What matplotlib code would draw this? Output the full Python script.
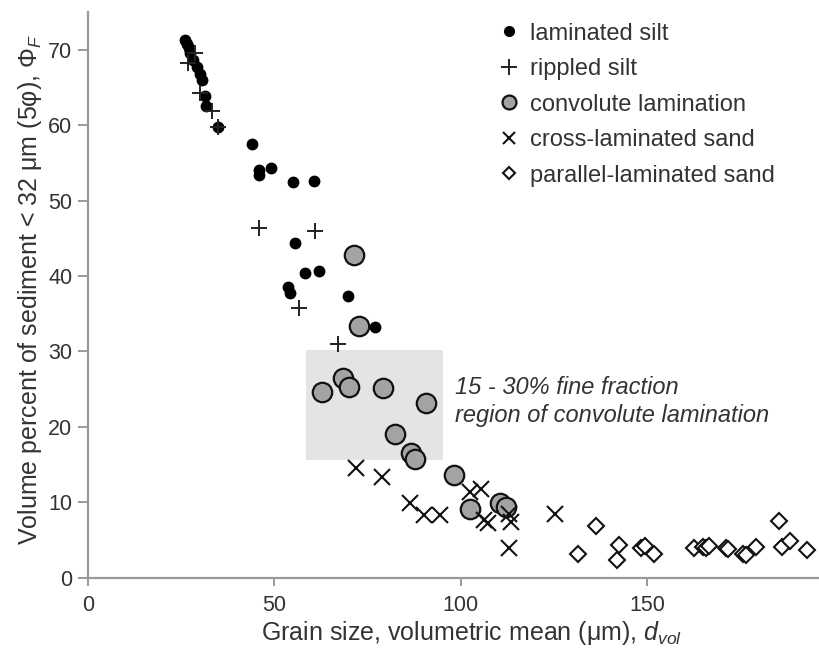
import matplotlib
matplotlib.use("Agg")
import matplotlib.pyplot as plt
from matplotlib.lines import Line2D
from matplotlib.patches import Rectangle

plt.rcParams['font.family'] = ['Liberation Sans', 'DejaVu Sans']
plt.rcParams['mathtext.fontset'] = 'custom'
plt.rcParams['mathtext.rm'] = 'Liberation Sans'
plt.rcParams['mathtext.it'] = 'Liberation Sans:italic'

# ---- data (grain size um, volume percent < 32 um) ----
lam_x = [26.0, 26.6, 27.0, 27.5, 28.3, 29.2, 30.0, 30.5, 31.5, 31.8, 34.8, 43.9, 45.9, 45.9,
         49.0, 54.9, 60.6, 55.6, 58.2, 61.9, 53.7, 54.2, 69.8, 77.1]
lam_y = [71.3, 70.8, 70.2, 69.5, 68.6, 67.7, 66.8, 66.0, 63.8, 62.6, 59.8, 57.5, 54.0, 53.4,
         54.3, 52.4, 52.6, 44.4, 40.4, 40.7, 38.5, 37.8, 37.4, 33.3]

rip_x = [26.9, 28.7, 30.0, 33.2, 34.9, 45.9, 60.9, 56.6, 67.1]
rip_y = [68.2, 69.5, 64.2, 61.9, 59.8, 46.4, 46.0, 35.7, 31.0]

conv_x = [71.4, 72.7, 62.9, 68.5, 70.1, 79.2, 90.6, 82.3, 86.8, 87.7, 98.2, 102.4, 110.5, 112.2]
conv_y = [42.8, 33.4, 24.6, 26.5, 25.3, 25.2, 23.2, 19.0, 16.5, 15.8, 13.6, 9.1, 9.9, 9.4]

cross_x = [72.0, 79.0, 86.5, 90.1, 94.5, 102.4, 105.5, 106.4, 107.3, 113.1, 113.6, 113.1, 125.4]
cross_y = [14.5, 13.4, 9.9, 8.3, 8.3, 11.4, 11.8, 7.6, 7.2, 8.5, 7.4, 4.0, 8.4]

par_x = [131.6, 136.4, 142.6, 142.0, 148.4, 149.6, 152.0, 162.7, 165.0, 165.9, 166.8, 171.2,
         171.9, 175.9, 176.6, 179.3, 185.5, 186.4, 188.4, 193.1]
par_y = [3.1, 6.9, 4.3, 2.4, 3.9, 4.2, 3.2, 3.9, 4.1, 3.9, 4.2, 4.0, 3.8, 3.2, 3.0, 4.1, 7.5,
         4.1, 4.8, 3.7]

labels = ['laminated silt', 'rippled silt', 'convolute lamination',
          'cross-laminated sand', 'parallel-laminated sand']

region_x = [58.4, 95.4]
region_y = [15.6, 30.2]
region_text = '15 - 30% fine fraction\nregion of convolute lamination'

x_ticks = [0, 50, 100, 150]
y_ticks = [0, 10, 20, 30, 40, 50, 60, 70]

# ---- figure ----
fig = plt.figure(figsize=(8.19, 6.51), dpi=100)
ax = fig.add_axes([88 / 819, (651 - 577.7) / 651, 731 / 819, 565.7 / 651])
ax.set_xlim(0, 196.2)
ax.set_ylim(0, 75)

ax.add_patch(Rectangle((region_x[0], region_y[0]), region_x[1] - region_x[0],
                       region_y[1] - region_y[0], facecolor='#e4e4e4', edgecolor='none',
                       zorder=1))

ax.plot(conv_x, conv_y, 'o', ms=14, mfc='#a3a3a3', mec='#111111', mew=1.6, ls='none', zorder=3)
ax.plot(lam_x, lam_y, 'o', ms=7.5, mfc='black', mec='black', ls='none', zorder=4)
ax.plot(rip_x, rip_y, '+', ms=12, mec='#222222', mew=1.4, ls='none', zorder=5)
ax.plot(cross_x, cross_y, 'x', ms=11, mec='#111111', mew=1.5, ls='none', zorder=5)
ax.plot(par_x, par_y, 'D', ms=8, mfc='white', mec='#111111', mew=1.5, ls='none', zorder=5)

ax.text(98.4, 20.6, region_text, style='italic', fontsize=17, color='#333333',
        va='baseline', ha='left', linespacing=1.3, zorder=6)

handles = [
    Line2D([], [], ls='none', marker='o', ms=7, mfc='black', mec='black'),
    Line2D([], [], ls='none', marker='+', ms=11, mec='#222222', mew=1.4),
    Line2D([], [], ls='none', marker='o', ms=10, mfc='#a3a3a3', mec='#111111', mew=1.6),
    Line2D([], [], ls='none', marker='x', ms=8.5, mec='#111111', mew=1.5),
    Line2D([], [], ls='none', marker='D', ms=6.5, mfc='white', mec='#111111', mew=1.5),
]
leg = ax.legend(handles, labels, loc='upper left', bbox_to_anchor=(492.5 / 819, 1 - 18 / 651),
                bbox_transform=fig.transFigure, frameon=False, fontsize=17,
                handlelength=1.0, handletextpad=0.39, labelspacing=0.57, borderpad=0.2,
                borderaxespad=0.0)
for t in leg.get_texts():
    t.set_color('#333333')

ax.set_xticks(x_ticks)
ax.set_yticks(y_ticks)
ax.tick_params(axis='x', direction='out', length=6, width=1.4, color='#999999', labelsize=15.5,
               labelcolor='#333333', pad=6.5)
ax.tick_params(axis='y', direction='out', length=7, width=1.4, color='#999999', labelsize=15.5,
               labelcolor='#333333', pad=4.2)
for s in ['top', 'right']:
    ax.spines[s].set_visible(False)
for s in ['left', 'bottom']:
    ax.spines[s].set_color('#999999')
    ax.spines[s].set_linewidth(1.6)

ax.set_xlabel('Grain size, volumetric mean (\u03bcm), $d_{vol}$', fontsize=18, color='#333333',
              labelpad=2)
ax.set_ylabel('Volume percent of sediment < 32 \u03bcm (5\u03c6), $\\Phi_F$', fontsize=18,
              color='#333333', labelpad=3)
ax.xaxis.label.set_x(0.525)
ax.yaxis.label.set_y(0.51)

fig.savefig('out.png', dpi=100, facecolor='white')
